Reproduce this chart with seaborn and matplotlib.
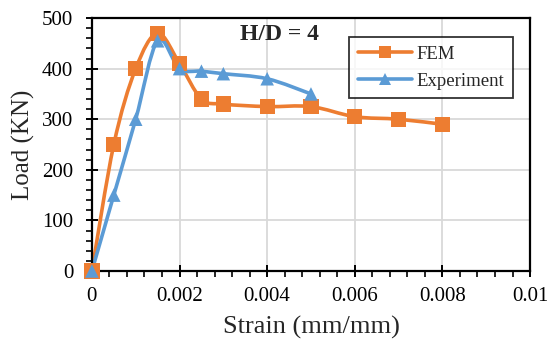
import numpy as np
import pandas as pd
import matplotlib
matplotlib.use("Agg")
import matplotlib.pyplot as plt
from matplotlib.path import Path
from matplotlib.patches import PathPatch
from matplotlib.lines import Line2D
from matplotlib.ticker import MultipleLocator, FixedLocator, FixedFormatter
import seaborn as sns

# Load-strain response, H/D = 4
fem_strain = [0, 0.0005, 0.001, 0.0015, 0.002, 0.0025, 0.003, 0.004, 0.005, 0.006, 0.007, 0.008]
fem_load = [0, 250, 400, 470, 410, 340, 330, 325, 325, 305, 300, 290]
exp_strain = [0, 0.0005, 0.001, 0.0015, 0.002, 0.0025, 0.003, 0.004, 0.005]
exp_load = [0, 150, 300, 455, 400, 395, 390, 380, 350]

x_ticks = [0, 0.002, 0.004, 0.006, 0.008, 0.01]
x_tick_labels = ["0", "0.002", "0.004", "0.006", "0.008", "0.01"]
y_ticks = [0, 100, 200, 300, 400, 500]

ORANGE = "#ED7D31"
BLUE = "#5B9BD5"

sns.set_theme(style="white")
plt.rcParams["font.family"] = ["Liberation Serif", "DejaVu Serif"]

df = pd.concat([
    pd.DataFrame({"Strain": fem_strain, "Load": fem_load, "Series": "FEM"}),
    pd.DataFrame({"Strain": exp_strain, "Load": exp_load, "Series": "Experiment"}),
], ignore_index=True)

fig = plt.figure(figsize=(5.47, 3.47), dpi=100)
ax = fig.add_axes([0.168, 0.219, 0.801, 0.729])


def smooth_path(xs, ys, tension=1.0 / 6.0):
    """Cubic Bezier path through the points (Catmull-Rom style smoothing)."""
    pts = np.column_stack([xs, ys]).astype(float)
    verts = [pts[0]]
    codes = [Path.MOVETO]
    n = len(pts)
    for i in range(n - 1):
        p0 = pts[i - 1] if i > 0 else pts[i]
        p1 = pts[i]
        p2 = pts[i + 1]
        p3 = pts[i + 2] if i + 2 < n else pts[i + 1]
        c1 = p1 + (p2 - p0) * tension
        c2 = p2 - (p3 - p1) * tension
        verts += [c1, c2, p2]
        codes += [Path.CURVE4] * 3
    return Path(verts, codes)


# smoothed connecting lines
for xs, ys, col in [(fem_strain, fem_load, ORANGE), (exp_strain, exp_load, BLUE)]:
    ax.add_patch(PathPatch(smooth_path(xs, ys), facecolor="none", edgecolor=col,
                           lw=2.6, zorder=2, capstyle="round", joinstyle="round"))

# markers
sns.scatterplot(data=df, x="Strain", y="Load", hue="Series", style="Series",
                markers={"FEM": "s", "Experiment": "^"},
                palette={"FEM": ORANGE, "Experiment": BLUE},
                ax=ax, legend=False, zorder=3, linewidth=0)
for coll in ax.collections:
    coll.set_clip_on(False)
marker_sizes = np.array([120] * len(fem_strain) + [95] * len(exp_strain))
ax.collections[0].set_sizes(marker_sizes)

ax.set_xlim(0, 0.01)
ax.set_ylim(0, 500)
ax.xaxis.set_major_locator(FixedLocator(x_ticks))
ax.xaxis.set_major_formatter(FixedFormatter(x_tick_labels))
ax.xaxis.set_minor_locator(MultipleLocator(0.0004))
ax.yaxis.set_major_locator(FixedLocator(y_ticks))
ax.yaxis.set_minor_locator(MultipleLocator(20))

ax.grid(True, which="major", color="#d9d9d9", lw=1.3, zorder=0)
ax.set_axisbelow(True)
for sp in ax.spines.values():
    sp.set_color("black")
    sp.set_linewidth(1.6)
    sp.set_visible(True)

ax.tick_params(axis="both", which="major", direction="inout", length=9, width=1.4,
               colors="black", labelsize=15, left=True, bottom=True)
ax.tick_params(axis="both", which="minor", direction="out", length=4, width=1.2,
               colors="black", left=True, bottom=True)
ax.tick_params(axis="x", which="major", pad=7)
ax.tick_params(axis="y", which="major", pad=9)

ax.set_xlabel("Strain (mm/mm)", fontsize=19, labelpad=7)
ax.set_ylabel("Load (KN)", fontsize=18, labelpad=5)

ax.text(0.338, 0.935, "H/D = 4", transform=ax.transAxes, fontsize=17,
        fontweight="bold", ha="left", va="center")

handles = [
    Line2D([], [], color=ORANGE, lw=2.6, marker="s", markersize=8, markeredgewidth=0),
    Line2D([], [], color=BLUE, lw=2.6, marker="^", markersize=8, markeredgewidth=0),
]
leg = ax.legend(handles, ["FEM", "Experiment"], loc="upper right",
                bbox_to_anchor=(0.961, 0.925), borderaxespad=0, fontsize=13.5,
                frameon=True, fancybox=False, edgecolor="black", handlelength=2.9,
                handletextpad=0.25, borderpad=0.45, labelspacing=0.55)
leg.get_frame().set_linewidth(1.3)

fig.savefig("out.png", dpi=100)
